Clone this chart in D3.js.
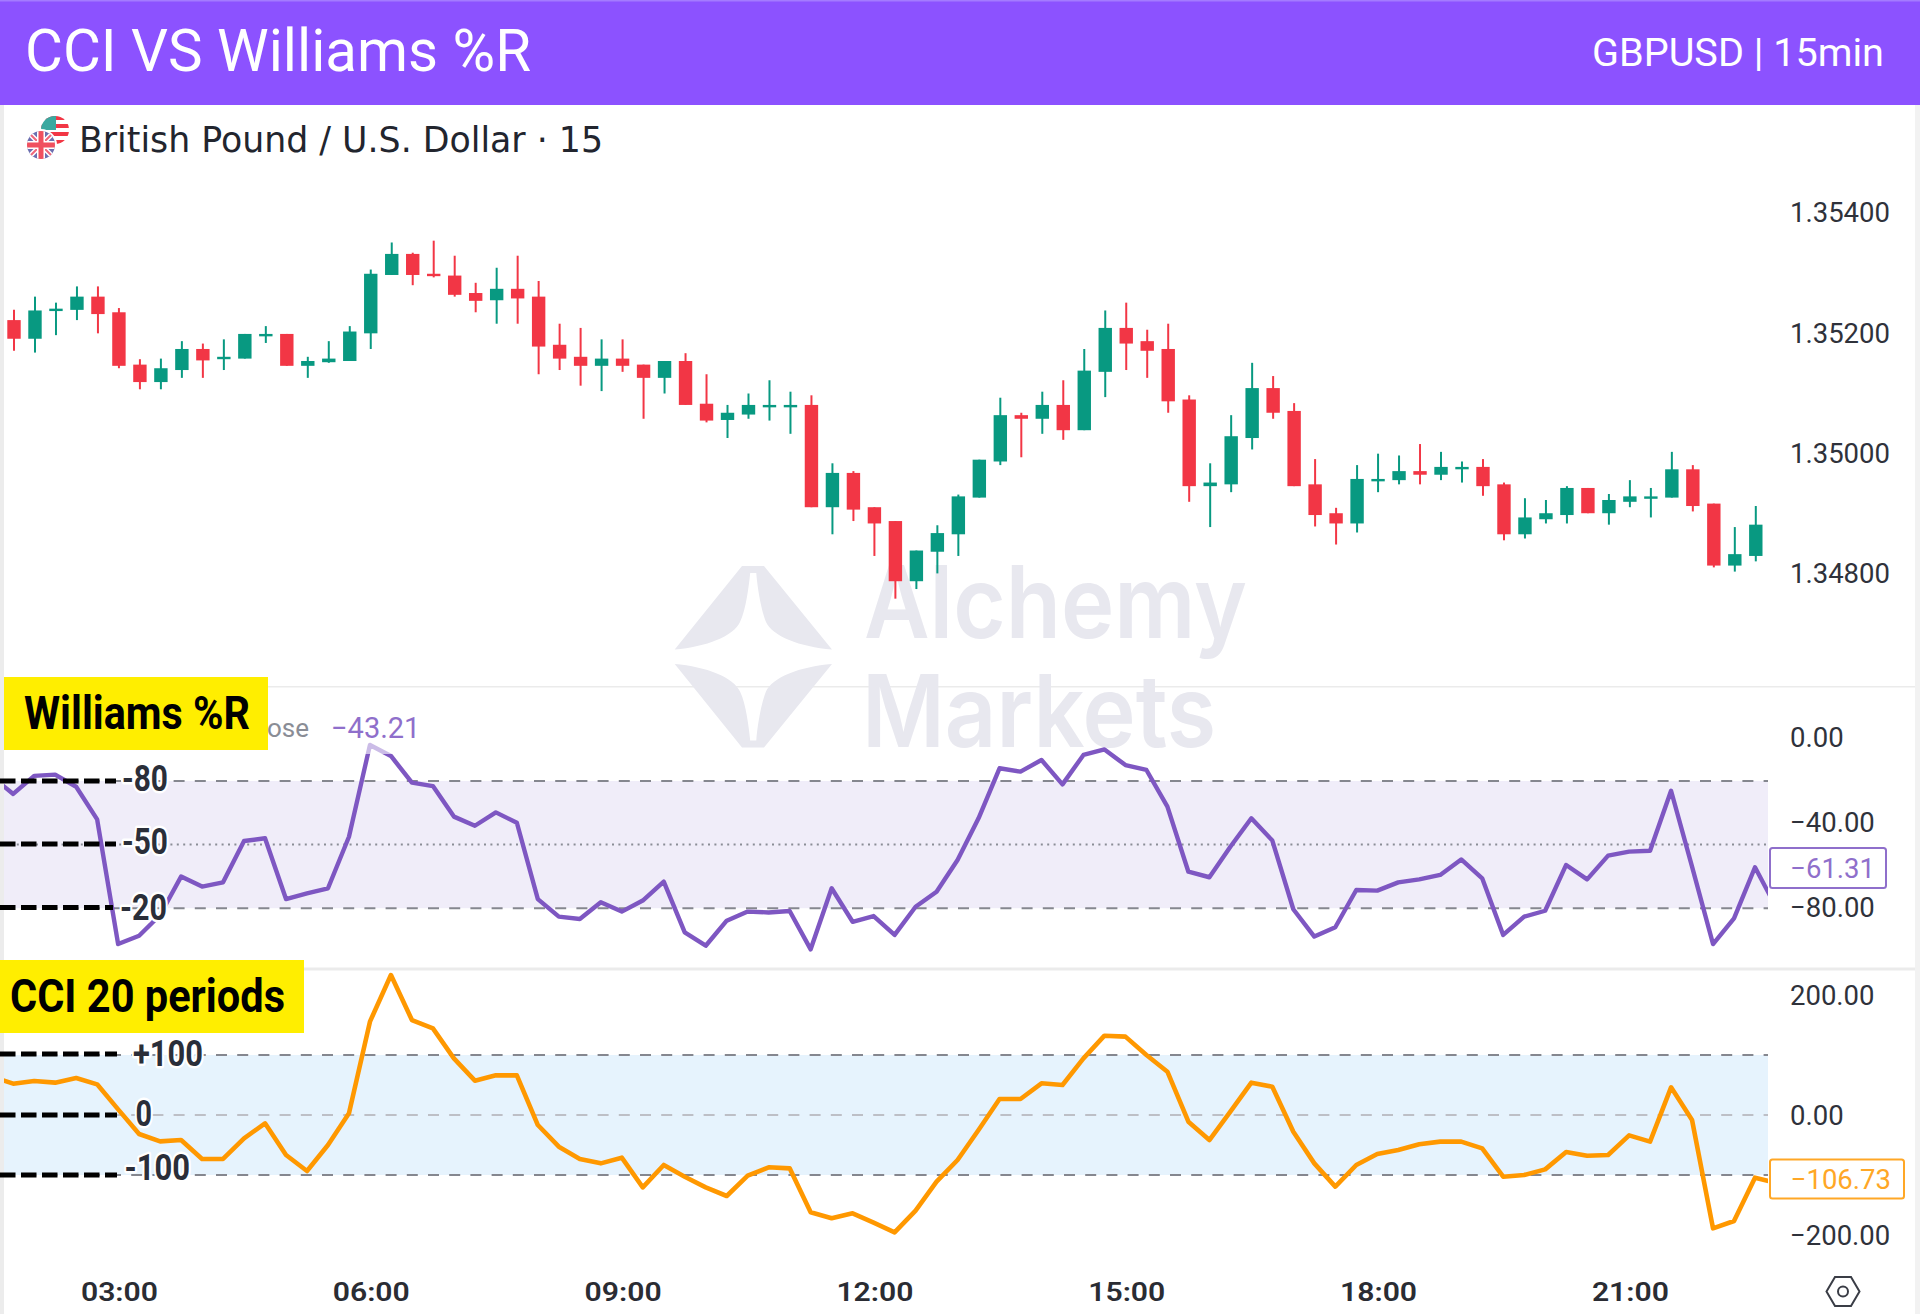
<!DOCTYPE html>
<html><head><meta charset="utf-8">
<script src="https://cdnjs.cloudflare.com/ajax/libs/d3/7.8.5/d3.min.js"></script>
<style>html,body{margin:0;padding:0;background:#fff}svg{display:block}text{font-family:Roboto,sans-serif}</style>
</head><body><svg id="c" width="1920" height="1314"></svg>
<script>
const openValues=[1.35222,1.35191,1.35239,1.35239,1.35261,1.35235,1.35148,1.35119,1.35139,1.35174,
1.35159,1.35158,1.35197,1.35199,1.35146,1.35152,1.35154,1.35200,1.35297,1.35332,
1.35299,1.35296,1.35267,1.35255,1.35274,1.35261,1.35181,1.35161,1.35146,1.35158,
1.35148,1.35126,1.35154,1.35083,1.35056,1.35065,1.35078,1.35078,1.35081,1.34911,
1.34968,1.34911,1.34888,1.34788,1.34837,1.34866,1.34927,1.34987,1.35064,1.35058,
1.35081,1.35039,1.35136,1.35209,1.35187,1.35174,1.35090,1.34946,1.34949,1.35026,
1.35109,1.35071,1.34949,1.34901,1.34884,1.34956,1.34956,1.34971,1.34965,1.34976,
1.34978,1.34949,1.34866,1.34891,1.34898,1.34943,1.34901,1.34920,1.34927,1.34927,
1.34974,1.34917,1.34814,1.34830];
const closeValues=[1.35191,1.35238,1.35241,1.35261,1.35232,1.35146,1.35119,1.35142,1.35174,1.35155,
1.35161,1.35199,1.35199,1.35146,1.35154,1.35158,1.35203,1.35299,1.35332,1.35297,
1.35297,1.35264,1.35254,1.35274,1.35258,1.35178,1.35158,1.35146,1.35158,1.35146,
1.35126,1.35154,1.35081,1.35055,1.35068,1.35081,1.35081,1.35081,1.34911,1.34968,
1.34907,1.34884,1.34788,1.34839,1.34868,1.34929,1.34990,1.35064,1.35058,1.35081,
1.35039,1.35138,1.35209,1.35183,1.35171,1.35087,1.34946,1.34952,1.35029,1.35109,
1.35068,1.34946,1.34898,1.34884,1.34958,1.34958,1.34971,1.34965,1.34978,1.34978,
1.34946,1.34866,1.34894,1.34901,1.34943,1.34901,1.34923,1.34929,1.34929,1.34974,
1.34913,1.34814,1.34833,1.34882];
const highValues=[1.35239,1.35261,1.35251,1.35278,1.35278,1.35242,1.35157,1.35158,1.35187,1.35183,
1.35190,1.35199,1.35212,1.35199,1.35161,1.35187,1.35212,1.35306,1.35351,1.35334,
1.35354,1.35329,1.35284,1.35309,1.35329,1.35287,1.35216,1.35209,1.35190,1.35190,
1.35148,1.35154,1.35167,1.35132,1.35081,1.35100,1.35122,1.35103,1.35097,1.34984,
1.34971,1.34911,1.34888,1.34839,1.34881,1.34932,1.34990,1.35093,1.35068,1.35103,
1.35122,1.35174,1.35238,1.35251,1.35206,1.35216,1.35097,1.34984,1.35064,1.35151,
1.35129,1.35084,1.34991,1.34910,1.34981,1.35000,1.34997,1.35016,1.35003,1.34987,
1.34991,1.34952,1.34926,1.34923,1.34946,1.34943,1.34933,1.34956,1.34943,1.35003,
1.34981,1.34917,1.34878,1.34913];
const lowValues=[1.35171,1.35168,1.35197,1.35222,1.35200,1.35142,1.35107,1.35107,1.35126,1.35126,
1.35139,1.35158,1.35184,1.35146,1.35126,1.35151,1.35154,1.35174,1.35297,1.35280,
1.35293,1.35261,1.35235,1.35216,1.35216,1.35132,1.35139,1.35113,1.35104,1.35136,
1.35058,1.35100,1.35081,1.35052,1.35026,1.35058,1.35055,1.35033,1.34911,1.34866,
1.34888,1.34830,1.34759,1.34775,1.34801,1.34830,1.34927,1.34981,1.34994,1.35033,
1.35023,1.35039,1.35094,1.35139,1.35126,1.35068,1.34920,1.34878,1.34936,1.35007,
1.35058,1.34946,1.34879,1.34849,1.34869,1.34936,1.34949,1.34949,1.34956,1.34952,
1.34930,1.34856,1.34859,1.34884,1.34884,1.34901,1.34882,1.34911,1.34894,1.34927,
1.34904,1.34811,1.34804,1.34821];
// one bar before the first candle and one after the last, both clipped at the pane edge
const williamsValues=[-18.1,-26.1,-17.6,-17.0,-22.7,-38.1,-96.9,-93.0,-83.2,-65.1,-69.8,-67.8,-48.3,-47.0,-75.7,-73.0,-70.6,-46.3,-3.0,-8.2,-20.8,-22.4,-36.8,-41.1,-34.8,-39.7,-75.7,-84.0,-85.1,-77.2,-81.6,-76.4,-67.5,-91.4,-97.7,-85.9,-81.6,-82.0,-81.3,-99.4,-70.6,-86.4,-83.7,-92.6,-79.3,-72.2,-57.3,-37.6,-14.0,-15.6,-10.1,-21.6,-7.7,-5.1,-12.5,-14.8,-32.1,-62.8,-65.4,-51.0,-37.6,-48.1,-80.5,-93.4,-89.0,-71.4,-71.7,-67.8,-66.4,-64.3,-57.0,-65.9,-92.6,-84.0,-81.2,-59.6,-66.4,-55.2,-53.3,-52.9,-24.6,-60.4,-96.9,-84.8,-60.7,-79.4];
const cciValues=[63.9,52.2,56.7,53.9,61.7,51.1,9.4,-31.7,-43.9,-41.7,-73.3,-73.3,-38.9,-13.9,-66.7,-93.3,-50,2.8,155.6,233.3,158.3,144.4,94.4,57.2,66.1,66.1,-16.7,-52.8,-73.3,-80.6,-71.1,-120.6,-83.3,-102.8,-120.6,-135,-101.1,-87.2,-88.9,-162.2,-172.2,-163.9,-179.4,-195.6,-159.4,-111.1,-75,-25,26.7,26.7,52.8,50,94.4,132.2,130.6,100,72.2,-11.1,-41.7,5.6,53.9,47.2,-27.8,-80.6,-119.4,-83.3,-65,-58.3,-48.9,-44.4,-44.4,-55.6,-102.8,-100,-90.6,-61.7,-67.8,-66.7,-33.9,-44.4,46.1,-8.3,-188.9,-176.7,-104.4,-112.8];
const timeTicks=[5,17,29,41,53,65,77];
const timeLabels=["03:00","06:00","09:00","12:00","15:00","18:00","21:00"];
const priceTicks=[1.348,1.35,1.352,1.354];
const williamsTicks=[0,-40,-80];
const cciTicks=[200,0,-200];
const williamsLevels=[-20,-50,-80];
const cciLevels=[100,0,-100];

const svg=d3.select("#c");
const MINUS="\u2212";
const fmt2=v=>(v<0?MINUS:"")+Math.abs(v).toFixed(2);
const x=d3.scaleLinear().domain([0,83]).range([14,1755.8]);
const yP=d3.scaleLinear().domain([1.348,1.354]).range([574,213]);
const yW=d3.scaleLinear().domain([-20,-80]).range([781,908.2]);
const yC=d3.scaleLinear().domain([100,-100]).range([1055,1175]);
const paneL=4,paneR=1768;
const TV="#2a2e39";

// chrome
svg.append("rect").attr("x",0).attr("y",105).attr("width",4).attr("height",1209).attr("fill","#ececec");
svg.append("rect").attr("x",1915).attr("y",105).attr("width",5).attr("height",1209).attr("fill","#f2f2f2");
svg.append("rect").attr("x",4).attr("y",686).attr("width",1911).attr("height",1.5).attr("fill","#ebebeb");
svg.append("rect").attr("x",4).attr("y",967.5).attr("width",1911).attr("height",3).attr("fill","#ebebeb");

// watermark
const wm=svg.append("g").attr("fill","#e8e8ef");
const blade=(m)=>{const p=d3.path();const f=v=>m?1313.4-v:v;
 p.moveTo(742,f(566));p.lineTo(764,f(566));p.lineTo(832,f(649.5));
 p.bezierCurveTo(800,f(647),772,f(636),766,f(622));p.bezierCurveTo(761,f(610),757,f(585),756.3,f(573));
 p.lineTo(750.2,f(573));p.bezierCurveTo(749,f(585),746,f(610),740,f(622));p.bezierCurveTo(734,f(636),706,f(647),674.7,f(649.5));
 p.closePath();return p.toString();};
wm.append("path").attr("d",blade(false));
wm.append("path").attr("d",blade(true));
wm.append("text").attr("x",864).attr("y",638).text("Alchemy").attr("font-size",100).attr("font-weight",600)
  .attr("textLength",383).attr("lengthAdjust","spacingAndGlyphs").style("font-family","Inter");
wm.append("text").attr("x",862).attr("y",746.5).text("Markets").attr("font-size",100).attr("font-weight",600)
  .attr("textLength",354).attr("lengthAdjust","spacingAndGlyphs").style("font-family","Inter");

// header
svg.append("rect").attr("width",1920).attr("height",105).attr("fill","#8c52ff");
svg.append("rect").attr("width",1920).attr("height",1.5).attr("fill","#a47bff");
svg.append("text").attr("x",25).attr("y",70.5).text("CCI VS Williams %R").attr("font-size",59).attr("font-weight",400).attr("fill","#fff")
  .attr("textLength",506).attr("lengthAdjust","spacingAndGlyphs");
svg.append("text").attr("x",1884).attr("y",65.5).attr("text-anchor","end").text("GBPUSD | 15min").attr("font-size",39).attr("font-weight",400).attr("fill","#fff")
  .attr("textLength",292).attr("lengthAdjust","spacingAndGlyphs");

// flags
const flags=svg.append("g");
flags.append("defs").html('<clipPath id="us"><circle cx="55" cy="130" r="14"/></clipPath><clipPath id="uk"><circle cx="41" cy="145" r="14"/></clipPath><clipPath id="pane"><rect x="'+paneL+'" y="690" width="'+(paneR-paneL)+'" height="620"/></clipPath>');
const us=flags.append("g").attr("clip-path","url(#us)");
us.append("rect").attr("x",41).attr("y",116).attr("width",28).attr("height",28).attr("fill","#fff");
d3.range(4).forEach(k=>us.append("rect").attr("x",41).attr("y",116+k*8).attr("width",28).attr("height",4).attr("fill","#f23645"));
us.append("rect").attr("x",41).attr("y",116).attr("width",15).attr("height",14).attr("fill","#3aa9a0");
flags.append("circle").attr("cx",41).attr("cy",145).attr("r",16).attr("fill","#fff");
const uk=flags.append("g").attr("clip-path","url(#uk)");
uk.append("rect").attr("x",27).attr("y",131).attr("width",28).attr("height",28).attr("fill","#6c6fb0");
uk.append("path").attr("d","M27 131L55 159M55 131L27 159").attr("stroke","#fff").attr("stroke-width",5);
uk.append("path").attr("d","M27 131L55 159M55 131L27 159").attr("stroke","#f0667a").attr("stroke-width",2);
uk.append("path").attr("d","M41 131V159M27 145H55").attr("stroke","#fff").attr("stroke-width",8);
uk.append("path").attr("d","M41 131V159M27 145H55").attr("stroke","#f0505f").attr("stroke-width",5);
svg.append("text").attr("x",79).attr("y",152).text("British Pound / U.S. Dollar \u00b7 15").attr("font-size",35).attr("fill","#22252e")
  .style("font-family","DejaVu Sans").attr("textLength",524).attr("lengthAdjust","spacingAndGlyphs");

// bands and levels
svg.append("rect").attr("x",paneL).attr("width",paneR-paneL).attr("y",yW(-20)).attr("height",yW(-80)-yW(-20)).attr("fill","#f0edf9");
svg.append("rect").attr("x",paneL).attr("width",paneR-paneL).attr("y",yC(100)).attr("height",yC(-100)-yC(100)).attr("fill","#e6f3fd");
const hl=(sel,y,stroke,dash)=>sel.append("line").attr("x1",paneL).attr("x2",paneR).attr("y1",y).attr("y2",y).attr("stroke",stroke).attr("stroke-width",2).attr("stroke-dasharray",dash);
williamsLevels.forEach(v=>hl(svg,yW(v),v===-50?"#8a8d96":"#85878f",v===-50?"2 4.4":"11 10.2"));
cciLevels.forEach(v=>hl(svg,yC(v),v===0?"#bdbfc6":"#85878f","11 10.2"));

// candles
const candles=d3.range(84).map(i=>({i,o:openValues[i],c:closeValues[i],h:highValues[i],l:lowValues[i]}));
const col=d=>d.c>=d.o?"#089981":"#f23645";
const cg=svg.append("g");
cg.selectAll("line").data(candles).join("line").attr("x1",d=>x(d.i)).attr("x2",d=>x(d.i)).attr("y1",d=>yP(d.h)).attr("y2",d=>yP(d.l)).attr("stroke",col).attr("stroke-width",2);
cg.selectAll("rect").data(candles).join("rect").attr("x",d=>x(d.i)-6.7).attr("width",13.4)
  .attr("y",d=>yP(Math.max(d.o,d.c))).attr("height",d=>Math.max(2.4,Math.abs(yP(d.o)-yP(d.c)))).attr("fill",col);

// indicator lines
const g=svg.append("g").attr("clip-path","url(#pane)");
const lineOf=(y)=>d3.line().x((d,i)=>x(i-1)-0.8).y(d=>y(d));
g.append("path").attr("d",lineOf(yW)(williamsValues)).attr("fill","none").attr("stroke","#7e57c2").attr("stroke-width",4.4).attr("stroke-linejoin","round");
g.append("path").attr("d",lineOf(yC)(cciValues)).attr("fill","none").attr("stroke","#ff9800").attr("stroke-width",4.6).attr("stroke-linejoin","round");

// legend row of the Williams pane
svg.append("rect").attr("x",260).attr("y",708).attr("width",165).attr("height",46).attr("fill","#fff").attr("opacity",0.6);
svg.append("text").attr("x",267).attr("y",737).text("ose").attr("font-size",26).attr("fill","#8a8d96");
svg.append("text").attr("x",331).attr("y",737.5).text(MINUS+"43.21").attr("font-size",29).attr("fill","#8f6fcb");

// right axes
const styleAxis=s=>{s.select(".domain").remove();s.selectAll("line").remove();s.selectAll("text").attr("fill","#2f323b").attr("font-size",27.5).style("font-family","Roboto").attr("x",0).attr("text-anchor","start");};
svg.append("g").attr("transform","translate(1790,0)").call(d3.axisRight(yP).tickValues(priceTicks).tickFormat(d3.format(".5f")).tickSize(0)).call(styleAxis);
svg.append("g").attr("transform","translate(1790,-1)").call(d3.axisRight(yW).tickValues(williamsTicks).tickFormat(fmt2).tickSize(0)).call(styleAxis);
svg.append("g").attr("transform","translate(1790,0.5)").call(d3.axisRight(yC).tickValues(cciTicks).tickFormat(fmt2).tickSize(0)).call(styleAxis);

// last-value tags
const tag=(x0,y0,w,h,color,label,tx)=>{
 svg.append("rect").attr("x",x0).attr("y",y0).attr("width",w).attr("height",h).attr("rx",2.5).attr("fill","#fff").attr("stroke",color).attr("stroke-width",2);
 svg.append("text").attr("x",tx).attr("y",y0+h/2+10).attr("text-anchor","end").attr("font-size",27.5).attr("fill",color).text(label);};
tag(1770,848,116,40,"#8f6fcb",MINUS+"61.31",1875);
tag(1770,1159.5,134,39,"#ffa726",MINUS+"106.73",1891);

// time axis
svg.append("g").attr("transform","translate(0,1281)").call(d3.axisBottom(x).tickValues(timeTicks).tickFormat((d,i)=>timeLabels[i]).tickSize(0).tickPadding(0))
 .call(s=>{s.select(".domain").remove();s.selectAll("line").remove();
   s.selectAll("text").attr("fill","#2a2c33").attr("font-size",26).attr("font-weight",600).style("font-family","Roboto").attr("y",0).attr("dy","0.75em")
     .attr("textLength",77).attr("lengthAdjust","spacingAndGlyphs");});

// settings glyph
const gear=svg.append("g").attr("transform","translate(1843,1291.5)").attr("fill","none").attr("stroke","#3a3d46").attr("stroke-width",2);
gear.append("path").attr("d","M-16.5 0L-8 -14.5H8L16.5 0L8 14.5H-8Z");
gear.append("circle").attr("r",5);

// hand-drawn annotations
const marker=(y,x2)=>svg.append("line").attr("x1",0).attr("x2",x2).attr("y1",y).attr("y2",y).attr("stroke","#000").attr("stroke-width",4.8).attr("stroke-dasharray","15.5 5.5");
const note=(txt,x0,x1,yc)=>svg.append("text").attr("x",x0).attr("y",yc+13.5).text(txt).attr("font-size",37).attr("font-weight",700).attr("fill",TV)
  .attr("textLength",x1-x0).attr("lengthAdjust","spacingAndGlyphs").attr("paint-order","stroke").attr("stroke","#fff").attr("stroke-width",5).attr("stroke-linejoin","round");
const panel=(txt,rx,ry,rw,rh,tx0,tx1,base)=>{
 svg.append("rect").attr("x",rx).attr("y",ry).attr("width",rw).attr("height",rh).attr("fill","#ffee00");
 svg.append("text").attr("x",tx0).attr("y",base).text(txt).attr("font-size",46).attr("font-weight",700).attr("fill","#000")
  .attr("textLength",tx1-tx0).attr("lengthAdjust","spacingAndGlyphs");};
marker(781,116);marker(844,116);marker(907.5,113);
note("-80",122,168,777.5);note("-50",122,168,840.5);note("-20",120,167,906);
marker(1054,117);marker(1115,117);marker(1175,117);
note("+100",133,203,1052.5);note("0",135.5,152,1112.5);note("-100",124.5,190,1166.5);
panel("Williams %R",4,677,264,73,24,250,729);
panel("CCI 20 periods",0,960,304,73,10,285,1012);
</script></body></html>
